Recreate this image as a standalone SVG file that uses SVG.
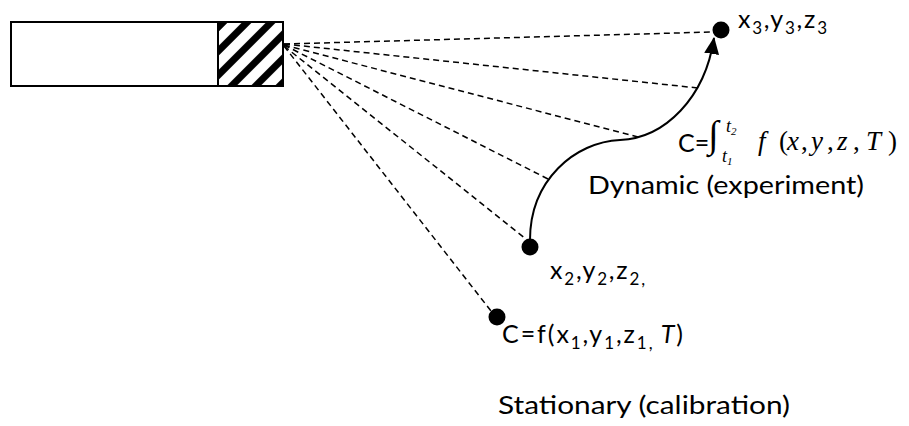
<svg xmlns="http://www.w3.org/2000/svg" width="909" height="426" viewBox="0 0 909 426">
<defs>
<pattern id="hatch" patternUnits="userSpaceOnUse" width="17" height="17" patternTransform="rotate(45)">
<rect x="0" y="0" width="7" height="17" fill="#000"/>
</pattern>
<marker id="arrow" markerWidth="17" markerHeight="15" refX="16" refY="7.5" orient="auto" markerUnits="userSpaceOnUse">
<path d="M0,0 L17,7.5 L0,15 Z" fill="#000"/>
</marker>
<style>
.lbl{font-family:Lato,"Open Sans","Liberation Sans",sans-serif;font-size:25px;fill:#000}
.sub{font-size:17px}
.math{font-family:"Liberation Serif","DejaVu Serif",serif;font-style:italic;fill:#000}
.dash{stroke:#000;stroke-width:1.5;stroke-dasharray:6 4;fill:none}
.dot{fill:#000}
</style>
</defs>
<rect width="909" height="426" fill="#fff"/>
<g id="probe">
<rect x="11" y="22" width="272" height="64" fill="#fff" stroke="#000" stroke-width="2"/>
<rect x="218" y="22" width="65" height="64" fill="url(#hatch)" stroke="#000" stroke-width="2"/>
</g>
<g id="connectors">
<line class="dash" x1="284" y1="44" x2="712" y2="32"/>
<line class="dash" x1="284" y1="44" x2="698" y2="88"/>
<line class="dash" x1="284" y1="45" x2="638" y2="137"/>
<line class="dash" x1="284" y1="45" x2="550" y2="180"/>
<line class="dash" x1="284" y1="46" x2="526" y2="239"/>
<line class="dash" x1="284" y1="46" x2="491" y2="311"/>
<path d="M530,240 C530,180 575,142 620,140 C665,138 705,98 714,38" fill="none" stroke="#000" stroke-width="2" marker-end="url(#arrow)"/>
</g>
<g id="p3">
<circle class="dot" cx="721" cy="30" r="8.5"/>
<text class="lbl" x="738" y="28" textLength="89" lengthAdjust="spacing">x<tspan class="sub" dy="6">3</tspan><tspan dy="-6">,y</tspan><tspan class="sub" dy="6">3</tspan><tspan dy="-6">,z</tspan><tspan class="sub" dy="6">3</tspan></text>
</g>
<g id="p2">
<circle class="dot" cx="530" cy="247" r="8.5"/>
<text class="lbl" x="550" y="279" textLength="95" lengthAdjust="spacing">x<tspan class="sub" dy="6">2</tspan><tspan dy="-6">,y</tspan><tspan class="sub" dy="6">2</tspan><tspan dy="-6">,z</tspan><tspan class="sub" dy="6">2,</tspan></text>
</g>
<g id="p1">
<circle class="dot" cx="497" cy="317" r="8.5"/>
<text class="lbl" x="502" y="343" textLength="181" lengthAdjust="spacing">C=f(x<tspan class="sub" dy="6">1</tspan><tspan dy="-6">,y</tspan><tspan class="sub" dy="6">1</tspan><tspan dy="-6">,z</tspan><tspan class="sub" dy="6">1, </tspan><tspan dy="-6" font-style="italic">T</tspan>)</text>
</g>
<g id="dynamic">
<text class="lbl" x="678" y="152">C=</text>
<text class="math" x="708" y="147" font-size="38" font-style="normal">∫</text>
<text class="math" x="726" y="132" font-size="18">t<tspan font-size="11" dy="3">2</tspan></text>
<text class="math" x="722" y="162" font-size="18">t<tspan font-size="11" dy="3">1</tspan></text>
<text class="math" font-size="27" y="150"><tspan x="758">f</tspan><tspan x="779" font-style="normal">(</tspan><tspan x="787">x</tspan><tspan x="801" font-style="normal">,</tspan><tspan x="811">y</tspan><tspan x="827" font-style="normal">,</tspan><tspan x="837">z</tspan><tspan x="853" font-style="normal">,</tspan><tspan x="866">T</tspan><tspan x="888" font-style="normal">)</tspan></text>
<text class="lbl" x="588" y="194" textLength="276" lengthAdjust="spacingAndGlyphs">Dynamic (experiment)</text>
</g>
<g id="stationary">
<text class="lbl" x="498" y="414" textLength="292" lengthAdjust="spacingAndGlyphs">Stationary (calibration)</text>
</g>
</svg>
